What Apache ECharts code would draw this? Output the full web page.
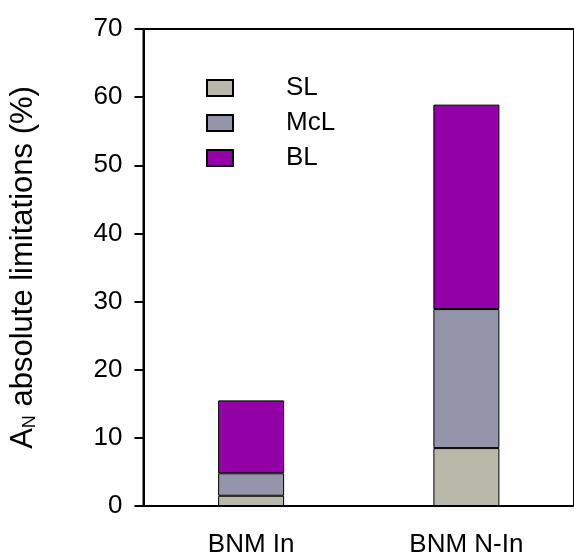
<!DOCTYPE html>
<html>
<head>
<meta charset="utf-8">
<script src="https://cdn.jsdelivr.net/npm/echarts@6/dist/echarts.min.js"></script>
<style>
  html, body { margin: 0; padding: 0; background: #fff; }
  #chart { width: 574px; height: 558px; }
</style>
</head>
<body>
<div id="chart"></div>
<script>
const categories = ['BNM In', 'BNM N-In'];
const slValues = [1.5, 8.5];
const mclValues = [3.3, 20.4];
const blValues = [10.7, 30.0];
const yTicks = [0, 10, 20, 30, 40, 50, 60, 70];

const FONT = 'Liberation Sans, Arial, sans-serif';

const myChart = echarts.init(document.getElementById('chart'));

const barStyle = (color) => ({
  color: color,
  borderColor: '#000',
  borderWidth: 1
});

const option = {
  animation: false,
  backgroundColor: '#fff',
  grid: {
    left: 133,
    right: -6,
    top: 29,
    bottom: 51,
    show: true,
    borderColor: '#000',
    borderWidth: 2,
    backgroundColor: 'transparent'
  },
  legend: {
    orient: 'vertical',
    left: 201,
    top: 70,
    itemWidth: 26,
    itemHeight: 16,
    itemGap: 9,
    icon: 'rect',
    textStyle: {
      fontFamily: FONT,
      fontSize: 26,
      lineHeight: 26,
      color: '#000',
      padding: [0, 0, 0, 48]
    },
    data: ['SL', 'McL', 'BL']
  },
  xAxis: {
    type: 'category',
    data: categories,
    axisLine: { lineStyle: { color: '#000', width: 2 } },
    axisTick: { alignWithLabel: true, length: 12, lineStyle: { color: '#000', width: 2 } },
    axisLabel: { fontFamily: FONT, fontSize: 26, color: '#000', margin: 26 }
  },
  yAxis: {
    type: 'value',
    min: yTicks[0],
    max: yTicks[yTicks.length - 1],
    interval: 10,
    name: '{a|A}{n|N}{a| absolute limitations (%)}',
    nameLocation: 'middle',
    nameGap: 104,
    nameTextStyle: {
      rich: {
        a: { fontFamily: FONT, fontSize: 31, color: '#000' },
        n: { fontFamily: FONT, fontSize: 18, color: '#000', verticalAlign: 'bottom', padding: [14, 0, 0, 0] }
      }
    },
    splitLine: { show: false },
    axisLine: { show: true, lineStyle: { color: '#000', width: 2 } },
    axisTick: { show: true, length: 9, lineStyle: { color: '#000', width: 2 } },
    axisLabel: { fontFamily: FONT, fontSize: 26, color: '#000', margin: 21 }
  },
  series: [
    { name: 'SL', type: 'bar', stack: 'total', barWidth: 66, data: slValues, itemStyle: barStyle('#b9b9aa') },
    { name: 'McL', type: 'bar', stack: 'total', barWidth: 66, data: mclValues, itemStyle: barStyle('#9494aa') },
    { name: 'BL', type: 'bar', stack: 'total', barWidth: 66, data: blValues, itemStyle: barStyle('#9400a8') }
  ]
};

myChart.setOption(option);
</script>
</body>
</html>
